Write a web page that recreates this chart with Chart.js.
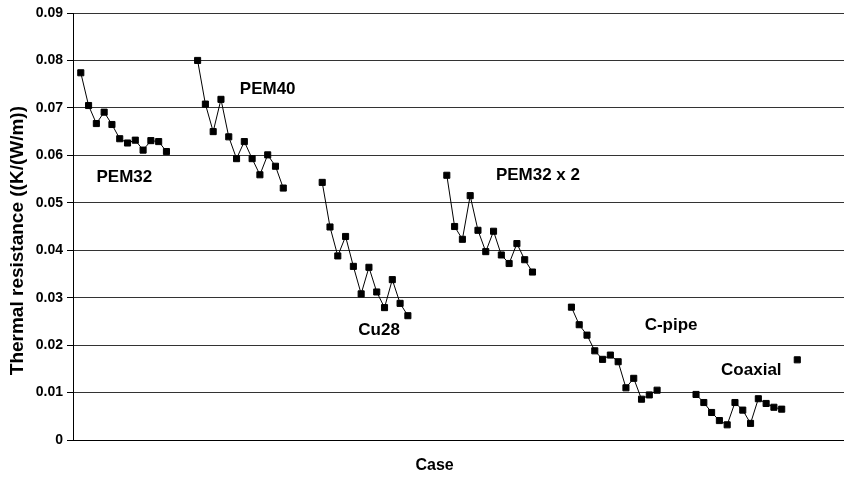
<!DOCTYPE html>
<html>
<head>
<meta charset="utf-8">
<script src="https://cdn.jsdelivr.net/npm/chart.js@4"></script>
<style>
  html, body { margin: 0; padding: 0; background: #fff; }
  #wrap { width: 844px; height: 479px; }
</style>
</head>
<body>
<div id="wrap"><canvas id="chart" width="844" height="479"></canvas></div>
<script>
// Valeurs (résistance thermique, K/(W/m))
const pem32 = [0.0774, 0.0705, 0.0667, 0.0691, 0.0665, 0.0635, 0.0626, 0.0632, 0.0611, 0.0631, 0.0629, 0.0608];
const pem40 = [0.0800, 0.0708, 0.0650, 0.0718, 0.0639, 0.0593, 0.0629, 0.0593, 0.0559, 0.0601, 0.0577, 0.0531];
const cu28 = [0.0543, 0.0449, 0.0388, 0.0429, 0.0366, 0.0308, 0.0364, 0.0312, 0.0279, 0.0338, 0.0288, 0.0262];
const pem32x2 = [0.0558, 0.0450, 0.0423, 0.0515, 0.0442, 0.0397, 0.0440, 0.0390, 0.0372, 0.0414, 0.0380, 0.0354];
const cPipe = [0.0280, 0.0243, 0.0221, 0.0188, 0.0170, 0.0179, 0.0165, 0.0110, 0.0130, 0.0086, 0.0095, 0.0105];
const coaxial = [0.0096, 0.0079, 0.0058, 0.0041, 0.0032, 0.0079, 0.0063, 0.0035, 0.0087, 0.0077, 0.0069, 0.0065];
const extra = [0.0169];

// Premier numéro de cas de chaque groupe
const groups = [pem32, pem40, cu28, pem32x2, cPipe, coaxial, extra];
const groupStart = [1, 16, 32, 48, 64, 80, 93];
const caseCount = 100;

// Étiquettes des groupes (texte, cas, valeur)
const labelTexts = ['PEM32', 'PEM40', 'Cu28', 'PEM32 x 2', 'C-pipe', 'Coaxial'];
const labelCase = [6.6, 25.0, 39.3, 59.7, 76.8, 87.1];
const labelValue = [0.0553, 0.0740, 0.0232, 0.0557, 0.0241, 0.0146];

const yTicks = [0, 0.01, 0.02, 0.03, 0.04, 0.05, 0.06, 0.07, 0.08, 0.09];
const xTitle = 'Case';
const yTitle = 'Thermal resistance ((K/(W/m))';

const cases = Array.from({ length: caseCount }, (_, i) => String(i));
const values = new Array(caseCount).fill(null);
groups.forEach((g, k) => {
  g.forEach((v, j) => { values[groupStart[k] + j] = v; });
});

const FONT = 'Liberation Sans, Arial, sans-serif';

// Texte des groupes positionné via les échelles, plus les titres des axes
const chartTexts = {
  id: 'chartTexts',
  afterDatasetsDraw(chart) {
    const { ctx, chartArea, scales: { x, y } } = chart;
    ctx.save();
    ctx.fillStyle = '#000';
    ctx.textAlign = 'center';
    ctx.textBaseline = 'middle';
    ctx.font = `bold 17px ${FONT}`;
    labelTexts.forEach((t, i) => {
      ctx.fillText(t, x.getPixelForValue(labelCase[i]), y.getPixelForValue(labelValue[i]));
    });

    // Titre de l'axe X (légèrement à gauche du centre, comme l'original)
    ctx.font = `bold 16px ${FONT}`;
    ctx.fillText(xTitle, chartArea.left + chartArea.width * 0.469, chart.height - 13);

    // Titre de l'axe Y
    ctx.font = `bold 19px ${FONT}`;
    ctx.translate(18, chartArea.top + chartArea.height * 0.533);
    ctx.rotate(-Math.PI / 2);
    ctx.fillText(yTitle, 0, 0);
    ctx.restore();
  }
};

new Chart(document.getElementById('chart').getContext('2d'), {
  type: 'line',
  data: {
    labels: cases,
    datasets: [{
      data: values,
      borderColor: '#000',
      borderWidth: 1,
      backgroundColor: '#000',
      pointStyle: 'rect',
      pointRadius: 4.3,
      pointBorderWidth: 1,
      pointBorderColor: '#000',
      pointBackgroundColor: '#000',
      tension: 0,
      spanGaps: false,
      fill: false
    }]
  },
  options: {
    responsive: false,
    devicePixelRatio: 1,
    animation: false,
    layout: { autoPadding: false, padding: { top: 13, right: 0, bottom: 0, left: 0 } },
    plugins: {
      legend: { display: false },
      tooltip: { enabled: false },
      title: { display: false }
    },
    scales: {
      x: {
        offset: false,
        grid: { display: false },
        border: { display: true, color: '#000', width: 1 },
        ticks: { display: false },
        title: { display: false },
        afterFit(scale) { scale.height = 39; }
      },
      y: {
        min: 0,
        max: 0.09,
        afterBuildTicks(scale) { scale.ticks = yTicks.map(v => ({ value: v })); },
        grid: {
          color: '#333',
          lineWidth: 1,
          drawTicks: true,
          tickLength: 6,
          tickColor: '#000'
        },
        border: { display: true, color: '#000', width: 1 },
        ticks: {
          color: '#000',
          padding: 4,
          font: { family: FONT, size: 14, weight: 'bold' },
          callback: v => (v === 0 ? '0' : v.toFixed(2))
        },
        title: { display: false },
        afterFit(scale) { scale.width = 73; }
      }
    }
  },
  plugins: [chartTexts]
});
</script>
</body>
</html>
